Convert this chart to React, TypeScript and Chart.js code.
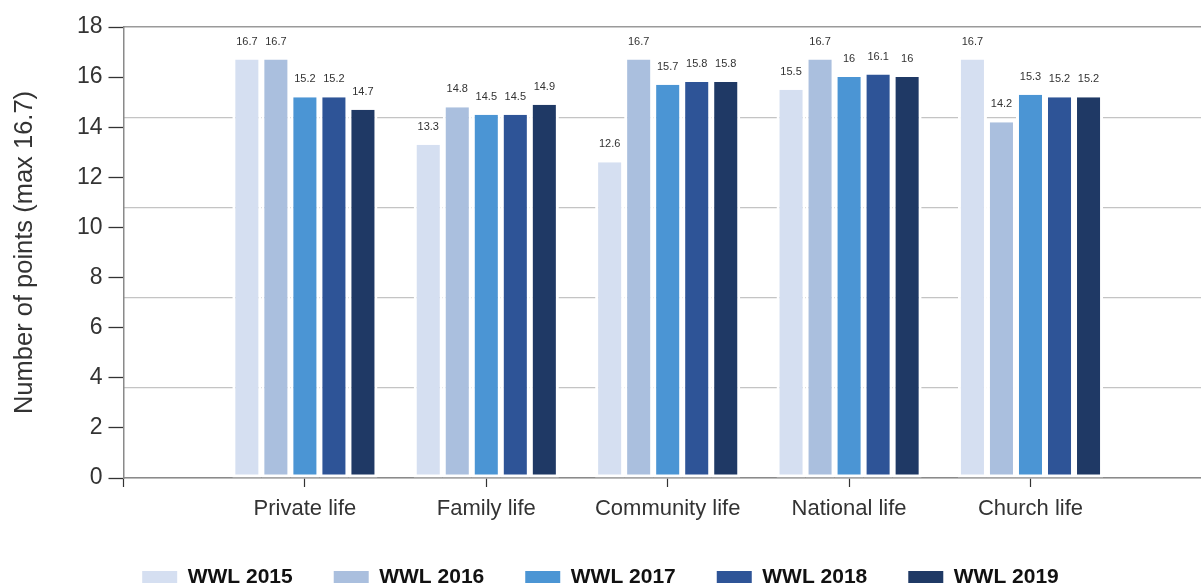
import React, { useEffect, useRef } from "react";
import Chart from "chart.js/auto";

const categories = ["Private life", "Family life", "Community life", "National life", "Church life"];
const seriesNames = ["WWL 2015", "WWL 2016", "WWL 2017", "WWL 2018", "WWL 2019"];
const wwl2015 = [16.7, 13.3, 12.6, 15.5, 16.7];
const wwl2016 = [16.7, 14.8, 16.7, 16.7, 14.2];
const wwl2017 = [15.2, 14.5, 15.7, 16, 15.3];
const wwl2018 = [15.2, 14.5, 15.8, 16.1, 15.2];
const wwl2019 = [14.7, 14.9, 15.8, 16, 15.2];
const seriesColors = ["#d5dff1", "#aabfde", "#4b95d4", "#2e5497", "#1f3965"];
const yTickStep = 2;
const gridStep = 3.6;
const yMax = 18;

const FONT = "'Liberation Sans', Arial, sans-serif";

const valueLabels = {
  id: "valueLabels",
  afterDatasetsDraw(chart: any) {
    const ctx = chart.ctx;
    ctx.save();
    ctx.font = `11px ${FONT}`;
    ctx.fillStyle = "#333333";
    ctx.textAlign = "center";
    ctx.textBaseline = "middle";
    chart.data.datasets.forEach((ds: any, di: number) => {
      const meta = chart.getDatasetMeta(di);
      meta.data.forEach((el: any, i: number) => {
        const v = ds.data[i].y;
        ctx.fillText(String(v), el.x, el.y - 18);
      });
    });
    ctx.restore();
  },
};

export default function App() {
  const ref = useRef<HTMLCanvasElement | null>(null);
  useEffect(() => {
    if (!ref.current) return;
    const all = [wwl2015, wwl2016, wwl2017, wwl2018, wwl2019];
    const chart = new Chart(ref.current, {
      type: "bar",
      data: {
        datasets: all.map((vals, si) => ({
          label: seriesNames[si],
          data: vals.map((v, i) => ({ x: i + 1, y: v })),
          backgroundColor: seriesColors[si],
          borderColor: "#ffffff",
          borderWidth: { left: 3, right: 3, top: 0, bottom: 3 },
          borderSkipped: false,
          barPercentage: 1,
          categoryPercentage: 0.8,
          yAxisID: "y",
        })),
      },
      options: {
        animation: false,
        responsive: false,
        devicePixelRatio: 1,
        layout: { padding: { top: 27, left: 0, right: 0, bottom: 0 } },
        plugins: {
          tooltip: { enabled: false },
          legend: {
            position: "bottom",
            maxHeight: 58.5,
            labels: {
              boxWidth: 35,
              boxHeight: 12,
              padding: 41,
              color: "#111111",
              font: { family: FONT, size: 21, weight: "bold" },
              generateLabels: (c: any) =>
                (Chart as any).defaults.plugins.legend.labels
                  .generateLabels(c)
                  .map((l: any) => ({ ...l, lineWidth: 0, strokeStyle: l.fillStyle })),
            },
          },
        },
        scales: {
          x: {
            type: "linear",
            min: 0,
            max: 5.94,
            offset: false,
            grid: {
              offset: false,
              drawOnChartArea: false,
              drawTicks: true,
              tickLength: 9,
              tickColor: "#333333",
              tickWidth: 1.2,
            },
            border: { display: true, color: "#8a8a8a", width: 1.5 },
            ticks: {
              stepSize: 1,
              includeBounds: false,
              autoSkip: false,
              maxRotation: 0,
              padding: 9,
              color: "#333333",
              font: { family: FONT, size: 22 },
              callback: (v: any) => {
                const idx = Math.round(Number(v)) - 1;
                return Number.isInteger(Number(v)) && idx >= 0 && idx < categories.length ? categories[idx] : "";
              },
            },
            afterFit: (s: any) => {
              s.height = 47.5;
            },
          },
          y: {
            type: "linear",
            position: "left",
            min: 0,
            max: yMax,
            grid: {
              drawOnChartArea: false,
              drawTicks: true,
              tickLength: 15,
              tickColor: "#333333",
              tickWidth: 1.3,
            },
            border: { display: true, color: "#8a8a8a", width: 1.5 },
            ticks: {
              stepSize: yTickStep,
              padding: 6,
              color: "#333333",
              font: { family: FONT, size: 23 },
            },
            title: {
              display: true,
              text: "Number of points (max 16.7)",
              color: "#333333",
              font: { family: FONT, size: 25.5 },
              padding: { top: 10, bottom: 0 },
            },
            afterFit: (s: any) => {
              s.width = 123.5;
            },
          },
          y2: {
            type: "linear",
            position: "right",
            min: 0,
            max: yMax,
            grid: {
              drawOnChartArea: true,
              drawTicks: false,
              color: (c: any) => (c.tick && c.tick.value >= yMax - 0.01 ? "#9a9a9a" : "#c4c4c4"),
              lineWidth: (c: any) => (c.tick && c.tick.value >= yMax - 0.01 ? 1.6 : 1.3),
            },
            border: { display: false },
            ticks: { stepSize: gridStep, display: false },
            afterFit: (s: any) => {
              s.width = 0;
            },
          },
        },
      } as any,
      plugins: [valueLabels],
    });
    return () => chart.destroy();
  }, []);
  return (
    <div style={{ position: "absolute", left: 0, top: 0, width: 1201, height: 584, background: "#ffffff" }}>
      <canvas ref={ref} width={1201} height={584} style={{ display: "block", width: 1201, height: 584 }} />
    </div>
  );
}
